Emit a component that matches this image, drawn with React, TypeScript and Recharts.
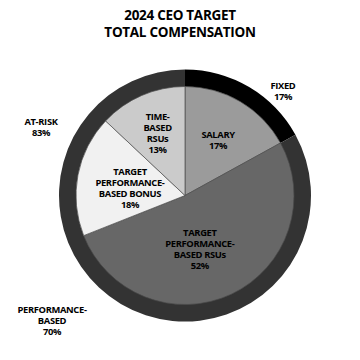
import { PieChart, Pie, Cell } from 'recharts';

const innerNames = ['SALARY', 'TARGET\nPERFORMANCE-\nBASED RSUs', 'TARGET\nPERFORMANCE-\nBASED BONUS', 'TIME-\nBASED\nRSUs'];
const innerValues = [17, 52, 18, 13];
const outerNames = ['FIXED', 'AT-RISK'];
const outerValues = [17, 83];
const perfLabel = 'PERFORMANCE-\nBASED';
const perfValue = 70;

const innerColors = ['#9b9b9b', '#676767', '#f1f1f1', '#cbcbcb'];
const outerColors = ['#000000', '#333333'];

const innerData = innerNames.map((name, i) => ({ name, value: innerValues[i] }));
const outerData = outerNames.map((name, i) => ({ name, value: outerValues[i] }));

const FONT = '"Open Sans", "DejaVu Sans", sans-serif';
const RAD = Math.PI / 180;

// per-slice label radius and nudge (inner)
const innerLabelR = [65, 56, 56, 69];
const innerNudge = [[0, 0], [-9, 2], [0, 2], [0, 0]];
// outer labels sit off to the side, offsets from centre
const outerOffsets = [[98, -105], [-144, -69]];

function lines(text: string, x: number, y: number, lh: number, size: number) {
  const parts = text.split('\n');
  const top = y - ((parts.length - 1) * lh) / 2;
  return (
    <text x={x} y={top} textAnchor="middle" dominantBaseline="central" fontFamily={FONT} fontWeight={700} fontSize={size} fill="#000" letterSpacing={-0.35}>
      {parts.map((p, i) => (
        <tspan key={i} x={x} y={top + i * lh}>{p}</tspan>
      ))}
    </text>
  );
}

const innerLabel = (props: any) => {
  const { cx, cy, midAngle, index, name, value } = props;
  const r = innerLabelR[index];
  const x = cx + r * Math.cos(-midAngle * RAD) + innerNudge[index][0];
  const y = cy + r * Math.sin(-midAngle * RAD) + innerNudge[index][1];
  return <g key={index}>{lines(`${name}\n${value}%`, x, y, 11, 9.4)}</g>;
};

const outerLabel = (props: any) => {
  const { cx, cy, index, name, value } = props;
  const [dx, dy] = outerOffsets[index];
  return <g key={index}>{lines(`${name}\n${value}%`, cx + dx, cy + dy, 10.5, 9.4)}</g>;
};

export default function App() {
  return (
    <div style={{ position: 'absolute', left: 0, top: 0, width: 360, height: 360, background: '#fff' }}>
      <div style={{ position: 'absolute', left: 0, top: 7, width: 360, textAlign: 'center', fontFamily: FONT, fontWeight: 700, fontSize: 13.5, lineHeight: '17px', letterSpacing: -0.3, color: '#000' }}>
        2024 CEO TARGET<br />TOTAL COMPENSATION
      </div>
      <PieChart width={360} height={360} style={{ position: 'absolute', left: 0, top: 0 }}>
        <Pie
          data={outerData}
          dataKey="value"
          nameKey="name"
          cx={180}
          cy={190.5}
          innerRadius={108}
          outerRadius={126}
          startAngle={90}
          endAngle={-270}
          stroke="none"
          label={outerLabel}
          labelLine={false}
          isAnimationActive={false}
        >
          {outerData.map((d, i) => (
            <Cell key={d.name} fill={outerColors[i]} />
          ))}
        </Pie>
        <Pie
          data={innerData}
          dataKey="value"
          nameKey="name"
          cx={180}
          cy={190.5}
          outerRadius={109}
          startAngle={90}
          endAngle={-270}
          stroke="#4a4a4a"
          strokeWidth={0.7}
          label={innerLabel}
          labelLine={false}
          isAnimationActive={false}
        >
          {innerData.map((d, i) => (
            <Cell key={d.name} fill={innerColors[i]} />
          ))}
        </Pie>
      </PieChart>
      <svg width={360} height={360} style={{ position: 'absolute', left: 0, top: 0, pointerEvents: 'none' }}>
        {lines(`${perfLabel}\n${perfValue}%`, 52, 320, 11, 9.4)}
      </svg>
    </div>
  );
}
